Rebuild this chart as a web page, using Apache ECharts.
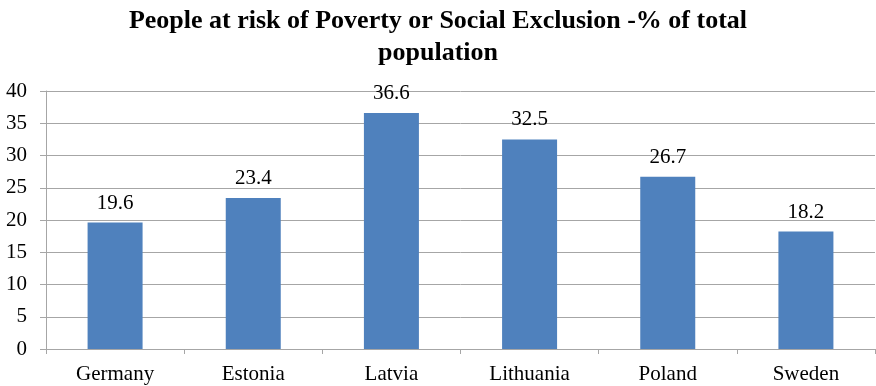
<!DOCTYPE html>
<html>
<head>
<meta charset="utf-8">
<script src="https://cdn.jsdelivr.net/npm/echarts@6/dist/echarts.min.js"></script>
<style>
  html, body { margin: 0; padding: 0; background: #ffffff; }
  #chart { width: 876px; height: 386px; }
</style>
</head>
<body>
<div id="chart"></div>
<script>
// Share of population at risk of poverty or social exclusion, by country
const countries = ['Germany', 'Estonia', 'Latvia', 'Lithuania', 'Poland', 'Sweden'];
const riskShare = [19.6, 23.4, 36.6, 32.5, 26.7, 18.2];
const yTicks = { min: 0, max: 40, interval: 5 };

const serif = '"Liberation Serif", "Times New Roman", serif';
const gridColor = '#A6A6A6';

const chart = echarts.init(document.getElementById('chart'), null, { renderer: 'canvas' });
chart.setOption({
  animation: false,
  backgroundColor: '#ffffff',
  title: {
    text: 'People at risk of Poverty or Social Exclusion -% of total\npopulation',
    left: 'center',
    top: 0,
    textStyle: {
      fontFamily: serif,
      fontWeight: 'bold',
      fontSize: 26,
      lineHeight: 32,
      color: '#000000'
    }
  },
  grid: { left: 46, right: 1, top: 91, bottom: 37, containLabel: false },
  xAxis: {
    type: 'category',
    data: countries,
    axisLine: { lineStyle: { color: gridColor, width: 1 } },
    axisTick: { show: true, length: 5, alignWithLabel: false, lineStyle: { color: gridColor } },
    axisLabel: { fontFamily: serif, fontSize: 21, color: '#000000', margin: 15 }
  },
  yAxis: {
    type: 'value',
    min: yTicks.min,
    max: yTicks.max,
    interval: yTicks.interval,
    axisLine: { show: true, lineStyle: { color: gridColor, width: 1 } },
    axisTick: { show: true, length: 6, lineStyle: { color: gridColor } },
    splitLine: { show: true, lineStyle: { color: gridColor, width: 1 } },
    axisLabel: { fontFamily: serif, fontSize: 21, color: '#000000', margin: 19 }
  },
  series: [{
    type: 'bar',
    data: riskShare,
    barWidth: 55,
    itemStyle: { color: '#4F81BD' },
    label: {
      show: true,
      position: 'top',
      distance: 9,
      fontFamily: serif,
      fontSize: 21,
      color: '#000000',
      formatter: p => p.value.toFixed(1)
    }
  }]
});
</script>
</body>
</html>
